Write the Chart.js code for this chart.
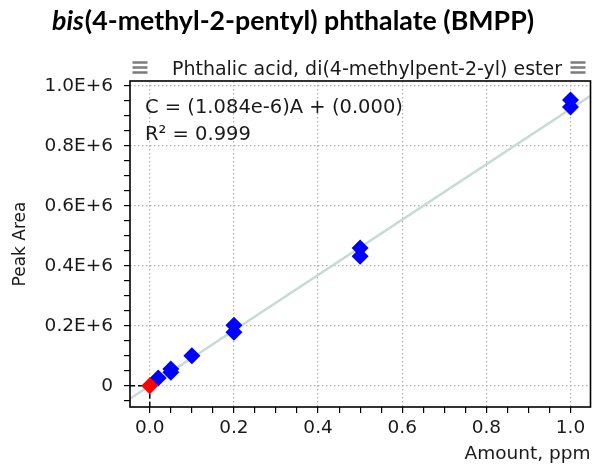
<!DOCTYPE html>
<html lang="en">
<head>
    <meta charset="UTF-8">
    <title>BMPP calibration</title>
    <script src="https://cdn.jsdelivr.net/npm/chart.js"></script>
    <style>
        html, body { margin: 0; padding: 0; background: #fff; }
        #wrap { width: 599px; height: 465px; position: relative; }
    </style>
</head>
<body>
<div id="wrap"><canvas id="calChart"></canvas></div>

<script>
    // calibration points (amount in ppm, peak area)
    const stdAmounts = [0.02, 0.05, 0.05, 0.1, 0.2, 0.2, 0.5, 0.5, 1.0, 1.0];
    const stdAreas = [26000, 45000, 56000, 100000, 178000, 202000, 432000, 459000, 929000, 953000];
    const blankAmounts = [0];
    const blankAreas = [0];

    // fit: C = (1.084e-6)A + (0.000)
    const fitCoef = 1.084e-6;
    const fitOffset = 0.000;
    const r2 = 0.999;

    const xMin = -0.047, xMax = 1.0475;
    const yMin = -71000, yMax = 1016000;
    const xMajor = [0, 0.2, 0.4, 0.6, 0.8, 1.0];
    const xLabels = ["0.0", "0.2", "0.4", "0.6", "0.8", "1.0"];
    const yMajor = [0, 200000, 400000, 600000, 800000, 1000000];
    const yLabels = ["0", "0.2E+6", "0.4E+6", "0.6E+6", "0.8E+6", "1.0E+6"];
    const xMinorStep = 0.05;
    const yMinorStep = 50000;

    function areaFromAmount(a) {
        return (a - fitOffset) / fitCoef;
    }

    function toPoints(xs, ys) {
        return xs.map((x, i) => ({ x: x, y: ys[i] }));
    }

    function majorIndex(list, v, eps) {
        return list.findIndex(m => Math.abs(m - v) < eps);
    }

    function minorTicks(lo, hi, step) {
        let ticks = [];
        for (let k = Math.ceil(lo / step - 1e-9); k * step <= hi + 1e-9; k++) {
            ticks.push({ value: +(k * step).toFixed(6) });
        }
        return ticks;
    }

    const tickFont = { family: "DejaVu Sans", size: 18.5 };

    const decorPlugin = {
        id: "decor",
        afterDraw(chart) {
            const ctx = chart.ctx;
            const a = chart.chartArea;
            const xs = chart.scales.x, ys = chart.scales.y;
            ctx.save();

            // frame
            ctx.strokeStyle = "#000";
            ctx.lineWidth = 1.6;
            ctx.setLineDash([]);
            ctx.strokeRect(a.left, a.top, a.right - a.left, a.bottom - a.top);

            // dashed projection of the origin point
            const ox = xs.getPixelForValue(blankAmounts[0]);
            const oy = ys.getPixelForValue(blankAreas[0]);
            ctx.lineWidth = 1.5;
            ctx.setLineDash([5, 3]);
            ctx.beginPath();
            ctx.moveTo(a.left, oy); ctx.lineTo(ox - 8, oy);
            ctx.moveTo(ox, oy + 8); ctx.lineTo(ox, a.bottom);
            ctx.stroke();
            ctx.setLineDash([]);

            // main title, bis in italics, squeezed to the reference width
            const tSize = 26;
            const p1 = "bis", p2 = "(4-methyl-2-pentyl) phthalate (BMPP)";
            ctx.font = "italic 700 " + tSize + "px Lato";
            const w1 = ctx.measureText(p1).width;
            ctx.font = "700 " + tSize + "px Lato";
            const w2 = ctx.measureText(p2).width;
            const target = 481;
            const sx = target / (w1 + w2);
            ctx.save();
            ctx.translate(52, 30);
            ctx.scale(sx, 1);
            ctx.fillStyle = "#000";
            ctx.textBaseline = "alphabetic";
            ctx.textAlign = "left";
            ctx.font = "italic 700 " + tSize + "px Lato";
            ctx.fillText(p1, 0, 0);
            ctx.font = "700 " + tSize + "px Lato";
            ctx.fillText(p2, w1 + 1, 0);
            ctx.restore();

            // subtitle with menu icons
            ctx.fillStyle = "#1a1a1a";
            ctx.font = "20px 'DejaVu Sans'";
            ctx.textAlign = "center";
            ctx.fillText("Phthalic acid, di(4-methylpent-2-yl) ester", 367, 75, 390);
            ctx.strokeStyle = "#7c7c7c";
            ctx.lineWidth = 2.5;
            [140, 578].forEach(cx => {
                ctx.beginPath();
                [62.5, 67.5, 72.5].forEach(yy => {
                    ctx.moveTo(cx - 7.5, yy); ctx.lineTo(cx + 7.5, yy);
                });
                ctx.stroke();
            });

            // fit equation
            ctx.fillStyle = "#1a1a1a";
            ctx.textAlign = "left";
            ctx.font = "19.5px 'DejaVu Sans'";
            ctx.fillText("C = (" + fitCoef.toExponential(3) + ")A + (" + fitOffset.toFixed(3) + ")", 145, 113);
            ctx.fillText("R\u00b2 = " + r2.toFixed(3), 145, 140);

            ctx.restore();
        }
    };

    const ctx = document.getElementById("calChart").getContext("2d");
    new Chart(ctx, {
        type: "scatter",
        data: {
            datasets: [
                {
                    label: "blank",
                    data: toPoints(blankAmounts, blankAreas),
                    pointStyle: "rectRot",
                    pointRadius: 8.5,
                    pointHoverRadius: 8.5,
                    borderWidth: 0,
                    backgroundColor: "#ff0000",
                    borderColor: "#ff0000"
                },
                {
                    label: "standards",
                    data: toPoints(stdAmounts, stdAreas),
                    pointStyle: "rectRot",
                    pointRadius: 8.5,
                    pointHoverRadius: 8.5,
                    borderWidth: 0,
                    backgroundColor: "#0000ff",
                    borderColor: "#0000ff"
                },
                {
                    label: "fit",
                    type: "line",
                    data: [
                        { x: xMin, y: areaFromAmount(xMin) },
                        { x: xMax, y: areaFromAmount(xMax) }
                    ],
                    borderColor: "#c6dcd3",
                    borderWidth: 2.5,
                    pointRadius: 0,
                    fill: false
                }
            ]
        },
        options: {
            responsive: true,
            maintainAspectRatio: false,
            animation: false,
            events: [],
            layout: { padding: { top: 81, right: 2, left: 0, bottom: 0 } },
            plugins: {
                legend: { display: false },
                tooltip: { enabled: false },
                title: { display: false }
            },
            scales: {
                x: {
                    type: "linear",
                    min: xMin,
                    max: xMax,
                    afterBuildTicks: s => { s.ticks = minorTicks(0, 1.0, xMinorStep); },
                    afterFit: s => { s.height = 58; },
                    ticks: {
                        autoSkip: false,
                        maxRotation: 0,
                        padding: 4,
                        color: "#1a1a1a",
                        font: tickFont,
                        callback: v => {
                            const i = majorIndex(xMajor, v, 1e-6);
                            return i >= 0 ? xLabels[i] : "";
                        }
                    },
                    grid: {
                        color: c => (c.tick && majorIndex(xMajor, c.tick.value, 1e-6) >= 0) ? "#b0b0b0" : "rgba(0,0,0,0)",
                        lineWidth: 1.2,
                        tickColor: "#000",
                        tickLength: 6,
                        tickWidth: 1.2
                    },
                    border: { display: false, dash: [1.5, 2.5] },
                    title: {
                        display: true,
                        text: "Amount, ppm",
                        align: "end",
                        color: "#1a1a1a",
                        font: { family: "DejaVu Sans", size: 18.5 },
                        padding: { top: 0, bottom: 0 }
                    }
                },
                y: {
                    type: "linear",
                    min: yMin,
                    max: yMax,
                    afterBuildTicks: s => { s.ticks = minorTicks(-50000, 1000000, yMinorStep); },
                    afterFit: s => { s.width = 130; },
                    ticks: {
                        autoSkip: false,
                        padding: 11,
                        color: "#1a1a1a",
                        font: tickFont,
                        callback: v => {
                            const i = majorIndex(yMajor, v, 1);
                            return i >= 0 ? yLabels[i] : "";
                        }
                    },
                    grid: {
                        color: c => (c.tick && majorIndex(yMajor, c.tick.value, 1) >= 0) ? "#b0b0b0" : "rgba(0,0,0,0)",
                        lineWidth: 1.2,
                        tickColor: "#000",
                        tickLength: 6,
                        tickWidth: 1.2
                    },
                    border: { display: false, dash: [1.5, 2.5] },
                    title: {
                        display: true,
                        text: "Peak Area",
                        color: "#1a1a1a",
                        font: { family: "DejaVu Sans", size: 17 },
                        padding: { top: 10, bottom: 0 }
                    }
                }
            }
        },
        plugins: [decorPlugin]
    });
</script>
</body>
</html>
